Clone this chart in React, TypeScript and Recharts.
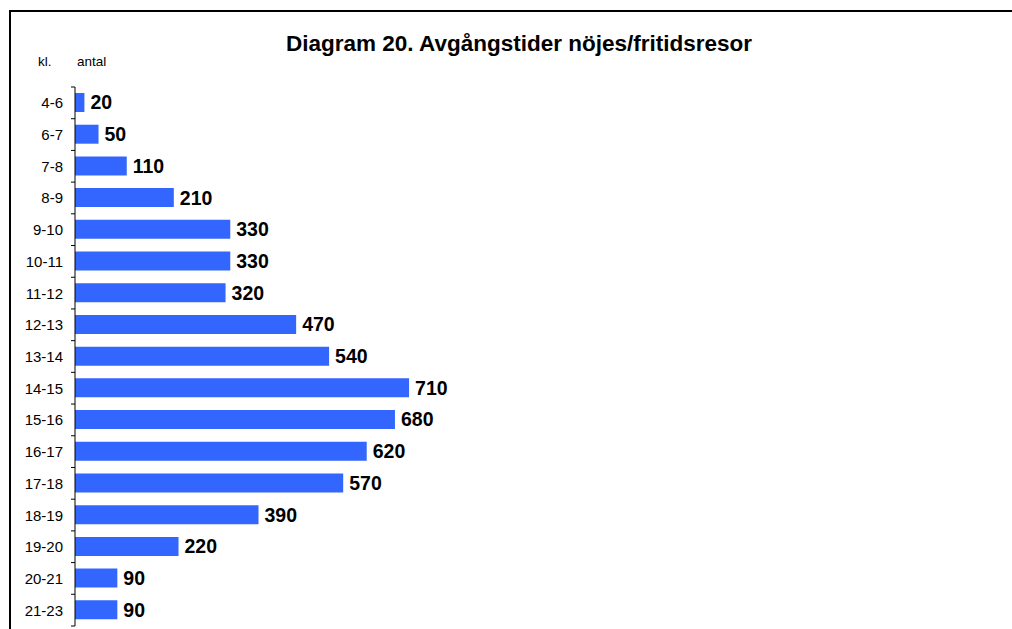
import React from 'react';
import { BarChart, Bar, XAxis, YAxis, LabelList } from 'recharts';

const hours = ['4-6', '6-7', '7-8', '8-9', '9-10', '10-11', '11-12', '12-13', '13-14', '14-15', '15-16', '16-17', '17-18', '18-19', '19-20', '20-21', '21-23'];
const trips = [20, 50, 110, 210, 330, 330, 320, 470, 540, 710, 680, 620, 570, 390, 220, 90, 90];

const chartData = hours.map((h, i) => ({ hour: h, antal: trips[i] }));

const W = 1012;
const H = 629;
const TOP = 87;
const BOTTOM = 3;
const band = (H - TOP - BOTTOM) / hours.length;
const font = 'Arial, "Liberation Sans", sans-serif';

// label plus tick marks on the band edges (Excel style)
const HourTick = (props: any) => {
  const { x, y, payload, index } = props;
  const last = index === hours.length - 1;
  return (
    <g>
      <line x1={x - 4} x2={x} y1={y - band / 2} y2={y - band / 2} stroke="#000" />
      {last && <line x1={x - 4} x2={x} y1={y + band / 2} y2={y + band / 2} stroke="#000" />}
      <text x={x - 12} y={y} dy={5.5} textAnchor="end" fontSize={15} fontFamily={font} fill="#000">
        {payload.value}
      </text>
    </g>
  );
};

const App: React.FC = () => {
  return (
    <div style={{ position: 'absolute', left: 0, top: 0, width: W, height: H, overflow: 'hidden', background: '#fff' }}>
      <div style={{ position: 'absolute', left: 9, top: 10, width: W + 20, height: H + 20, border: '2px solid #000', boxSizing: 'border-box' }} />
      <div style={{ position: 'absolute', left: 0, width: 1038, top: 33, lineHeight: 1, textAlign: 'center', fontFamily: font, fontWeight: 'bold', fontSize: 22.5, color: '#000' }}>
        Diagram 20. Avgångstider nöjes/fritidsresor
      </div>
      <div style={{ position: 'absolute', left: 38, top: 55, lineHeight: 1, fontFamily: font, fontSize: 13.5, color: '#000' }}>kl.</div>
      <div style={{ position: 'absolute', left: 77, top: 55, lineHeight: 1, fontFamily: font, fontSize: 13.5, color: '#000' }}>antal</div>
      <div style={{ position: 'absolute', left: 0, top: 0 }}>
        <BarChart
          width={W}
          height={H}
          data={chartData}
          layout="vertical"
          margin={{ top: TOP, right: 43, bottom: BOTTOM, left: 10 }}
          barCategoryGap={0}
        >
          <XAxis type="number" domain={[0, 1900]} hide />
          <YAxis
            type="category"
            dataKey="hour"
            width={65}
            axisLine={{ stroke: '#000' }}
            tickLine={false}
            tickSize={0}
            tickMargin={0}
            tick={<HourTick />}
            interval={0}
          />
          <Bar dataKey="antal" fill="#3366FF" barSize={19} isAnimationActive={false}>
            <LabelList
              dataKey="antal"
              position="right"
              offset={6}
              style={{ fontSize: 19.5, fontWeight: 'bold', fontFamily: font, fill: '#000' }}
            />
          </Bar>
        </BarChart>
      </div>
    </div>
  );
};

export default App;
